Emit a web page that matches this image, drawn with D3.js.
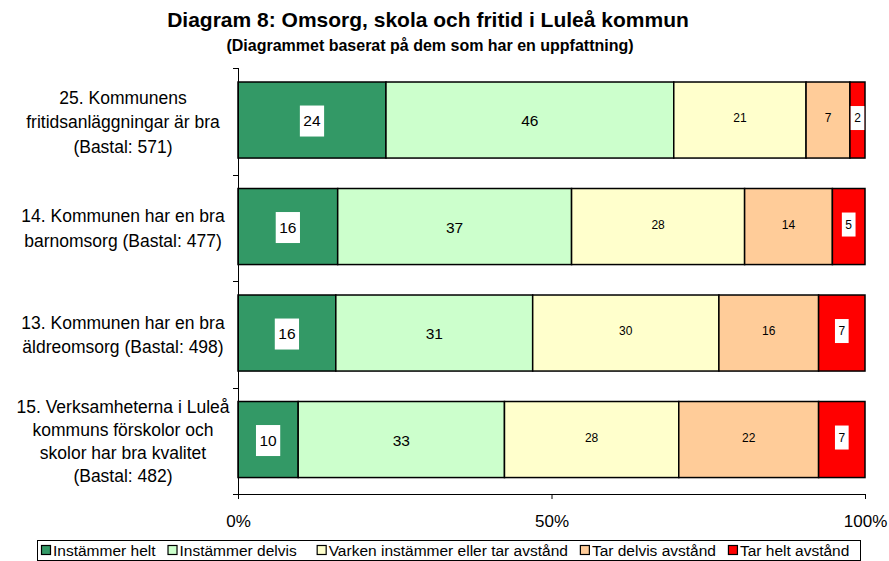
<!DOCTYPE html>
<html>
<head>
<meta charset="utf-8">
<script src="https://cdn.jsdelivr.net/npm/d3@7"></script>
<style>
  body { margin: 0; background: #fff; }
  text { font-family: "Liberation Sans", Arial, sans-serif; }
</style>
</head>
<body>
<script>
// data
const categories = ["q25", "q14", "q13", "q15"];
const categoryLines = [
    ["25. Kommunens", "fritidsanläggningar är bra", "(Bastal: 571)"],
    ["14. Kommunen har en bra", "barnomsorg (Bastal: 477)"],
    ["13. Kommunen har en bra", "äldreomsorg (Bastal: 498)"],
    ["15. Verksamheterna i Luleå", "kommuns förskolor och", "skolor har bra kvalitet", "(Bastal: 482)"]
];
const seriesNames = ["Instämmer helt", "Instämmer delvis", "Varken instämmer eller tar avstånd",
    "Tar delvis avstånd", "Tar helt avstånd"];
const instammerHelt = [23.6, 15.9, 15.6, 9.6];
const instammerDelvis = [45.9, 37.3, 31.4, 32.9];
const varken = [21.1, 27.6, 29.7, 27.8];
const tarDelvis = [7.0, 14.0, 15.9, 22.3];
const tarHelt = [2.4, 5.2, 7.4, 7.4];
const xTicks = [0, 50, 100];

const colors = ["#339966", "#CCFFCC", "#FFFFCC", "#FFCC99", "#FF0000"];
const labelSize = [15.5, 15.5, 12, 12, 12];
const labelBox = [true, false, false, false, true];

const canvWidth = 889, canvHeight = 561;
const svg = d3.select("body").append("svg")
    .attr("width", canvWidth)
    .attr("height", canvHeight);

// build a table for d3.stack
const allSeries = [instammerHelt, instammerDelvis, varken, tarDelvis, tarHelt];
const table = categories.map((c, i) => {
    const row = { cat: c };
    seriesNames.forEach((s, j) => row[s] = allSeries[j][i]);
    return row;
});
const stacked = d3.stack().keys(seriesNames)(table);

const xScale = d3.scaleLinear().domain([0, 100]).range([238, 865]);
const yScale = d3.scaleBand().domain(categories).range([68, 494])
    .paddingInner(0.286).paddingOuter(0.143).align(0.46);
const step = yScale.step();

// titles
svg.append("text")
    .attr("x", 428).attr("y", 27)
    .attr("text-anchor", "middle")
    .attr("font-size", "21px").attr("font-weight", "bold")
    .text("Diagram 8: Omsorg, skola och fritid i Luleå kommun");
svg.append("text")
    .attr("x", 430).attr("y", 51)
    .attr("text-anchor", "middle")
    .attr("font-size", "16px").attr("font-weight", "bold")
    .text("(Diagrammet baserat på dem som har en uppfattning)");

// bars
const layers = svg.append("g").selectAll("g")
    .data(stacked)
    .enter().append("g")
    .attr("fill", (d, i) => colors[i]);

layers.selectAll("rect")
    .data(d => d.map(v => ({ v: v, cat: v.data.cat })))
    .enter().append("rect")
    .attr("x", d => xScale(d.v[0]))
    .attr("y", d => yScale(d.cat))
    .attr("width", d => xScale(d.v[1]) - xScale(d.v[0]))
    .attr("height", yScale.bandwidth())
    .attr("stroke", "#000")
    .attr("stroke-width", 1.5);

// data labels
stacked.forEach((layer, si) => {
    layer.forEach(v => {
        const cx = (xScale(v[0]) + xScale(v[1])) / 2;
        const cy = yScale(v.data.cat) + yScale.bandwidth() / 2 + (labelSize[si] > 13 ? 1 : -2);
        const lbl = String(Math.round(v[1] - v[0]));
        const t = svg.append("text")
            .attr("x", cx).attr("y", cy)
            .attr("dy", "0.35em")
            .attr("text-anchor", "middle")
            .attr("font-size", labelSize[si] + "px")
            .attr("fill", "#000")
            .text(lbl);
        if (labelBox[si]) {
            const w = t.node().getComputedTextLength();
            const h = labelSize[si] * 2;
            svg.insert("rect", () => t.node())
                .attr("x", cx - w / 2 - 3.5)
                .attr("y", cy - h / 2)
                .attr("width", w + 7)
                .attr("height", h)
                .attr("fill", "#fff");
        }
    });
});

// y axis
const axisG = svg.append("g").attr("stroke", "#000").attr("stroke-width", 1);
axisG.append("line")
    .attr("x1", 238.5).attr("x2", 238.5)
    .attr("y1", 68).attr("y2", 494);
d3.range(categories.length + 1).forEach(i => {
    const y = Math.round(68 + i * step) + 0.5;
    axisG.append("line")
        .attr("x1", 233).attr("x2", 238.5)
        .attr("y1", y).attr("y2", y);
});

// x axis
const xAxis = d3.axisBottom(xScale)
    .tickValues(xTicks)
    .tickSize(5)
    .tickPadding(16)
    .tickFormat(d => d + "%");
svg.append("g")
    .attr("transform", "translate(0,494)")
    .call(xAxis)
    .call(g => g.select(".domain").attr("stroke", "#000"))
    .call(g => g.selectAll("text")
        .attr("font-family", "Liberation Sans, Arial, sans-serif")
        .attr("font-size", "17px")
        .attr("fill", "#000"));

// category labels
categoryLines.forEach((lines, i) => {
    const cy = yScale(categories[i]) + yScale.bandwidth() / 2 + 2;
    const lh = lines.length > 3 ? 23 : 24.5;
    const t = svg.append("text")
        .attr("text-anchor", "middle")
        .attr("font-size", "17.5px")
        .attr("fill", "#000");
    lines.forEach((ln, j) => {
        t.append("tspan")
            .attr("x", 123)
            .attr("y", cy + (j - (lines.length - 1) / 2) * lh)
            .attr("dy", "0.35em")
            .text(ln);
    });
});

// legend
const legend = svg.append("g");
legend.append("rect")
    .attr("x", 37.5).attr("y", 540.5)
    .attr("width", 823).attr("height", 20)
    .attr("fill", "#fff")
    .attr("stroke", "#000");
let lx = 41;
seriesNames.forEach((s, i) => {
    legend.append("rect")
        .attr("x", lx + 0.5).attr("y", 545.5)
        .attr("width", 9).attr("height", 9)
        .attr("fill", colors[i])
        .attr("stroke", "#000").attr("stroke-width", 1.2);
    const t = legend.append("text")
        .attr("x", lx + 12).attr("y", 556)
        .attr("font-size", "15.5px")
        .attr("fill", "#000")
        .text(s);
    lx += 12 + t.node().getComputedTextLength() + (i === 1 ? 20 : 12);
});
</script>
</body>
</html>
